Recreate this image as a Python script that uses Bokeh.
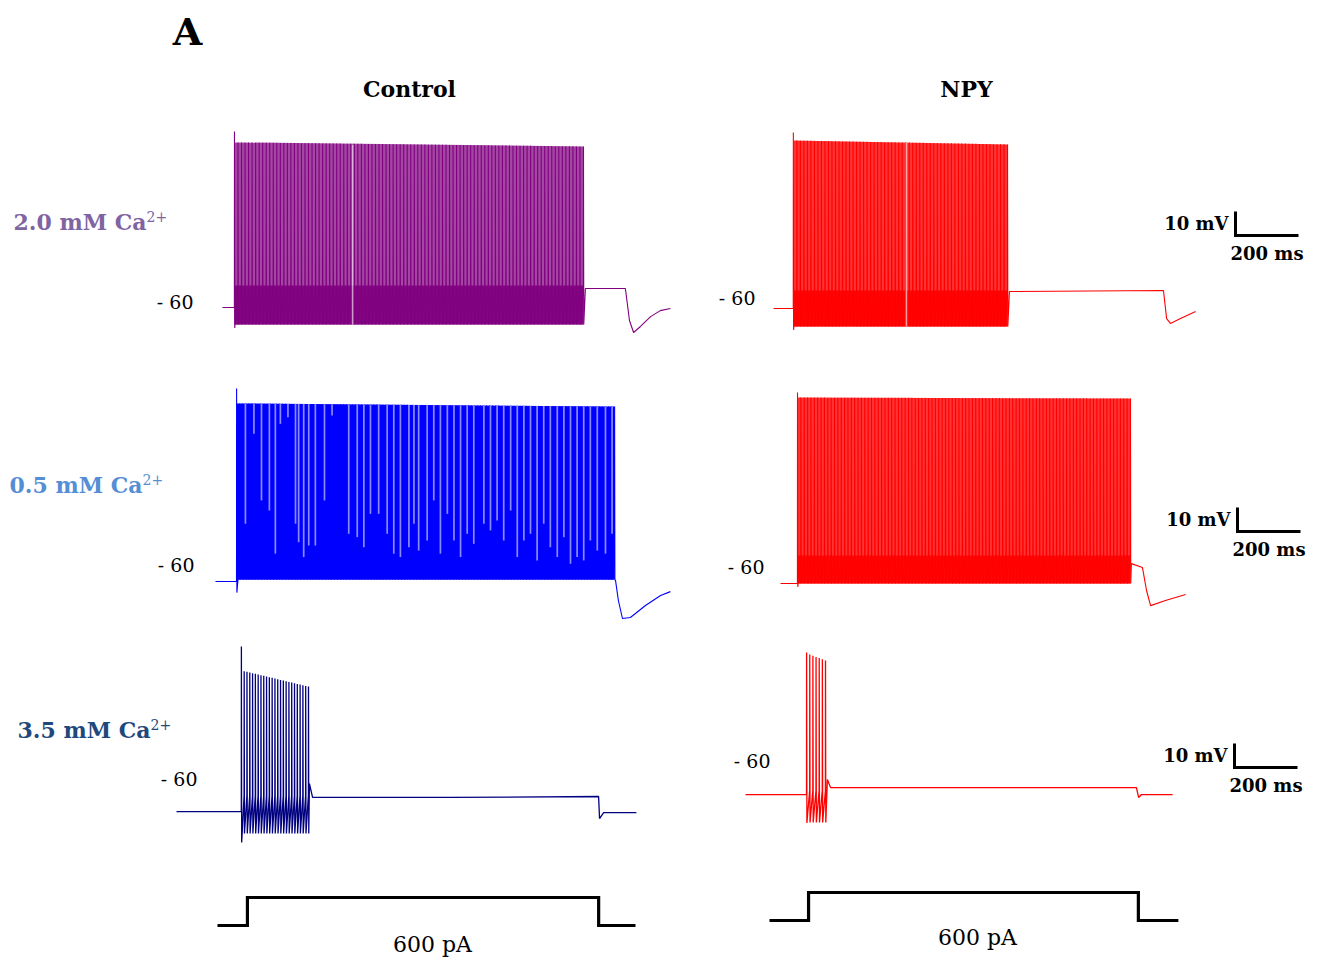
import numpy as np
from bokeh.plotting import figure
from bokeh.models import Range1d
from bokeh.core.properties import value
from bokeh.embed import file_html
from bokeh.resources import INLINE

# ---------------- data ----------------
column_titles = ["Control", "NPY"]
condition_labels = ["2.0 mM Ca", "0.5 mM Ca", "3.5 mM Ca"]
condition_charge = "2+"
reference_label = "- 60"
stim_label = "600 pA"
scale_mV = 10
scale_ms = 200

# traces: C1, N1, C2, N2, C3, N3   (time in ms from trace start, voltage in mV)
rest_mV = [-62.5, -64.6, -67.1, -67.1, -73.8, -74.2]
spike_first_ms = [38, 63, 67, 54, 206, 194]
spike_last_ms = [1146, 743, 1267, 1111, 419, 254]
spike_count = [100, 62, 125, 100, 25, 7]
first_peak_mV = [10.8, 8.8, 13.3, 12.5, -5.0, -15.0]
peak_start_mV = [6.3, 5.4, 7.1, 10.4, -15.0, -15.4]
peak_end_mV = [4.6, 3.8, 5.8, 10.0, -21.7, -18.3]
trough_mV = [-69.6, -72.1, -66.3, -67.1, -82.9, -85.8]
first_trough_mV = [-71.0, -73.5, -71.7, -68.5, -86.7, -86.0]
threshold_mV = [-53.3, -57.1, -58.3, -55.4, -67.1, -72.5]
tail_ms = [
    [1152, 1279, 1292, 1305, 1327, 1359, 1390, 1422],
    [749, 1238, 1248, 1260, 1292, 1340],
    [1270, 1279, 1292, 1317, 1365, 1413, 1444],
    [1114, 1149, 1162, 1175, 1222, 1286],
    [422, 432, 870, 1340, 1343, 1356, 1460],
    [260, 270, 1241, 1248, 1257, 1356],
]
tail_mV = [
    [-54.6, -54.6, -67.9, -72.9, -70.4, -66.3, -63.8, -62.9],
    [-57.5, -57.1, -68.8, -70.8, -68.8, -65.8],
    [-66.7, -75.0, -82.5, -82.1, -77.1, -72.9, -71.3],
    [-58.8, -60.4, -70.0, -76.3, -74.2, -71.7],
    [-62.1, -67.9, -67.9, -67.5, -76.7, -74.2, -74.2],
    [-67.9, -71.3, -71.3, -75.4, -74.2, -74.2],
]
# brief interruption of the spike train (row 1)
gap_ms = [413, 422, None, None, None, None]
# light gaps between fused spikes in the 0.5 mM control trace (time, lowest mV of gap)
gap_C2_ms = [95, 122, 146, 171, 190, 206, 230, 254, 264, 280, 296, 317, 346, 370,
             423, 450, 471, 492, 518, 545, 566, 587, 614, 630, 645, 672, 693, 714,
             736, 757, 778, 799, 820, 852, 873, 894, 915, 937, 958, 979, 1000, 1021,
             1042, 1063, 1085, 1106, 1127, 1148, 1169, 1190, 1212, 1238, 1259]
gap_C2_mV = [-43.0, -5.5, -33.3, -37.5, -55.5, -1.4, 1.4, -43.0, -50.7, -56.9, -52.1,
             -52.1, -33.3, 2.1, -47.2, -48.6, -52.8, -38.9, -38.9, -47.2, -55.5, -56.9,
             -52.8, -43.0, -54.2, -50.0, -33.3, -55.5, -38.9, -50.0, -56.9, -47.2, -51.4,
             -43.0, -45.8, -41.7, -50.0, -37.5, -56.9, -50.0, -47.2, -58.3, -43.0, -52.8,
             -56.9, -48.6, -59.7, -56.9, -58.3, -50.0, -54.2, -55.5, -47.2]

# current step (ms, pA) for Control and NPY columns
step_ms = [[0, 95, 95, 1210, 1210, 1327], [0, 124, 124, 1171, 1171, 1298]]
step_pA = [[0, 0, 600, 600, 0, 0], [0, 0, 600, 600, 0, 0]]

# ---------------- layout / style ----------------
PX_PER_MS = 0.315
PX_PER_MV = 2.4
PX_PER_PA = 0.0467
origin_x = [222, 773, 215, 780, 176, 745]     # pixel of t = 0
origin_y60 = [301, 297, 564, 566, 778, 760]   # pixel of -60 mV
trace_color = ["#800080", "#ff0000", "#0000ff", "#ff0000", "#000080", "#ff0000"]
envelope_alpha = [0.72, 0.8, 1.0, 0.8, 0.0, 0.0]
band_alpha = [0.92, 0.92, 1.0, 0.9, 0.0, 0.0]
label_color = ["#8064a2", "#558ed5", "#1f497d"]
FONT = value("DejaVu Serif")

W, H = 1318, 963
p = figure(width=W, height=H, x_range=Range1d(0, W), y_range=Range1d(H, 0),
           output_backend="svg", toolbar_location=None, min_border=0)
p.axis.visible = False
p.grid.visible = False
p.outline_line_color = None
p.background_fill_color = "white"
p.border_fill_color = "white"


def X(i, t):
    return origin_x[i] + np.asarray(t, dtype=float) * PX_PER_MS


def Y(i, v):
    return origin_y60[i] - (np.asarray(v, dtype=float) + 60.0) * PX_PER_MV


def txt(x, y, s, size, bold=False, color="black", align="left", baseline="middle"):
    p.text(x=[x], y=[y], text=[s], text_font=FONT, text_font_size=value(f"{size}px"),
           text_font_style="bold" if bold else "normal", text_color=color,
           text_align=align, text_baseline=baseline)


for i in range(6):
    n = spike_count[i]
    ts = np.linspace(spike_first_ms[i], spike_last_ms[i], n)
    isi = (ts[1] - ts[0]) if n > 1 else 10.0
    peaks = np.linspace(peak_start_mV[i], peak_end_mV[i], n)
    peaks[0] = first_peak_mV[i]
    troughs = np.full(n, trough_mV[i])
    troughs[0] = first_trough_mV[i]
    t_all = [0.0, spike_first_ms[i] - 0.3]
    v_all = [rest_mV[i], rest_mV[i]]
    for k in range(n):
        t_all += [ts[k], ts[k] + 0.9]
        v_all += [peaks[k], troughs[k]]
        if k < n - 1:
            t_all.append(ts[k] + isi - 0.3)
            v_all.append(threshold_mV[i])
    t_all += tail_ms[i]
    v_all += tail_mV[i]
    c = trace_color[i]

    if envelope_alpha[i] > 0:
        t0, t1 = spike_first_ms[i], spike_last_ms[i]
        p.patch(X(i, [t0, t0, t1, t1]),
                Y(i, [trough_mV[i], peak_start_mV[i], peak_end_mV[i], trough_mV[i]]),
                fill_color=c, fill_alpha=envelope_alpha[i], line_color=None)
        p.patch(X(i, [t0, t0, t1, t1]),
                Y(i, [trough_mV[i], threshold_mV[i], threshold_mV[i], trough_mV[i]]),
                fill_color=c, fill_alpha=band_alpha[i], line_color=None)
    p.line(X(i, t_all), Y(i, v_all), line_color=c, line_width=1.1 if i < 4 else 1.3)

    if gap_ms[i] is not None:
        g = gap_ms[i]
        p.line(X(i, [g, g]), Y(i, [peak_start_mV[i] - 1, trough_mV[i]]),
               line_color="white", line_alpha=0.6, line_width=1.6)

# light gaps of the fused 0.5 mM control train
gx = X(2, gap_C2_ms)
top_y = Y(2, np.interp(gap_C2_ms, [spike_first_ms[2], spike_last_ms[2]],
                       [peak_start_mV[2], peak_end_mV[2]]))
p.segment(x0=gx, y0=top_y, x1=gx, y1=Y(2, gap_C2_mV), line_color="#8a8aff",
          line_width=1.7)

# current steps
step_x0 = [217, 769]
step_base = [925, 920]
for j in range(2):
    xs = step_x0[j] + np.asarray(step_ms[j]) * PX_PER_MS
    ys = step_base[j] - np.asarray(step_pA[j]) * PX_PER_PA
    p.line(xs, ys, line_color="black", line_width=3.2, line_join="miter")
txt(432, 944, stim_label, 22, align="center")
txt(977, 937, stim_label, 22, align="center")

# scale bars
bar_corner = [(1235, 235), (1237, 531), (1234, 767)]
for (cx, cy) in bar_corner:
    h = scale_mV * PX_PER_MV
    w = scale_ms * PX_PER_MS
    p.line([cx, cx, cx + w], [cy - h, cy, cy + 0], line_color="black", line_width=3,
           line_join="miter")
    txt(cx - 7, cy - 12, f"{scale_mV} mV", 18, bold=True, align="right")
    txt(cx + w / 2, cy + 18, f"{scale_ms} ms", 18, bold=True, align="center")

# titles
txt(187, 31, "A", 38, bold=True, align="center")
txt(409, 88, column_titles[0], 22, bold=True, align="center")
txt(966, 88, column_titles[1], 22, bold=True, align="center")

# condition labels
label_pos = [(13, 221), (9, 484), (17, 729)]
for r, (lx, ly) in enumerate(label_pos):
    txt(lx, ly, condition_labels[r], 22, bold=True, color=label_color[r])
    txt(lx + 133, ly - 5, condition_charge, 14, color=label_color[r])

# -60 reference labels
ref_pos = [(193, 301), (755, 297), (194, 564), (764, 566), (197, 778), (770, 760)]
for (rx, ry) in ref_pos:
    txt(rx, ry, reference_label, 19, align="right")

open("out.html", "w").write(file_html(p, INLINE))
